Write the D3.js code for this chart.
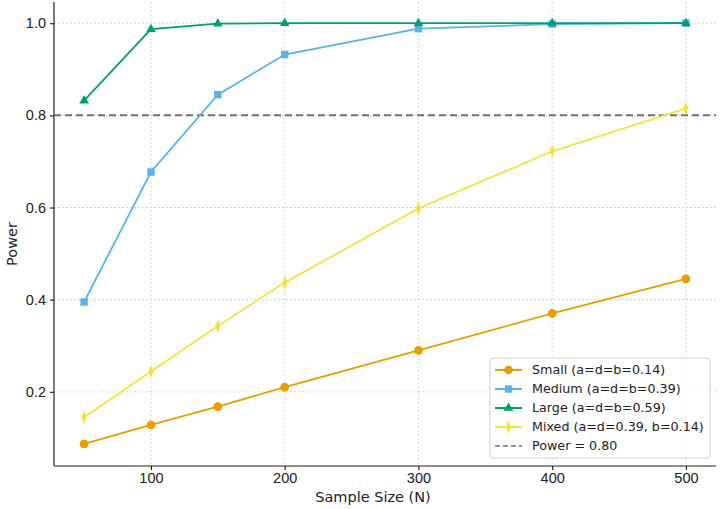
<!DOCTYPE html>
<html>
<head>
<meta charset="utf-8">
<script src="https://cdn.jsdelivr.net/npm/d3@7"></script>
<style>
  body { margin: 0; background: #fff; }
  svg { font-family: "DejaVu Sans", sans-serif; }
  .grid line { stroke: #cccccc; stroke-dasharray: 2,2; stroke-width: 0.8; }
  .axis text { font-size: 14.5px; fill: #222; }
  .axis path, .axis line { stroke: #222; stroke-width: 1.2; }
</style>
</head>
<body>
<svg id="chart"></svg>
<script>
// sample sizes and power values
const sampleSizes = [50, 100, 150, 200, 300, 400, 500];
const smallPower  = [0.087, 0.128, 0.168, 0.210, 0.290, 0.370, 0.445];
const mediumPower = [0.395, 0.677, 0.845, 0.932, 0.988, 0.998, 1.000];
const largePower  = [0.832, 0.987, 0.999, 1.000, 1.000, 1.000, 1.000];
const mixedPower  = [0.145, 0.244, 0.343, 0.437, 0.598, 0.722, 0.815];
const xTicks = [100, 200, 300, 400, 500];
const yTicks = [0.2, 0.4, 0.6, 0.8, 1.0];
const threshold = 0.80;

const seriesNames = ["Small (a=d=b=0.14)", "Medium (a=d=b=0.39)", "Large (a=d=b=0.59)", "Mixed (a=d=0.39, b=0.14)"];
const seriesColors = ["#E69F00", "#56B4E9", "#009E73", "#F0E442"];
const seriesMarkers = ["circle", "square", "triangle", "diamond"];

const config = {
    containerWidth: 720,
    containerHeight: 509,
    margin: { top: 2, right: 4, bottom: 43, left: 54 }
};

const width = config.containerWidth - config.margin.left - config.margin.right;
const height = config.containerHeight - config.margin.top - config.margin.bottom;

const svg = d3.select('#chart')
    .attr('width', config.containerWidth)
    .attr('height', config.containerHeight);

const chart = svg.append('g')
    .attr('transform', `translate(${config.margin.left},${config.margin.top})`);

const xScale = d3.scaleLinear().domain([27.5, 522.5]).range([0, width]);
const yScale = d3.scaleLinear().domain([0.039, 1.046]).range([height, 0]);

// grid
chart.append('g').attr('class', 'grid')
    .selectAll('line.v').data(xTicks).join('line')
    .attr('x1', d => xScale(d)).attr('x2', d => xScale(d))
    .attr('y1', 0).attr('y2', height);
chart.append('g').attr('class', 'grid')
    .selectAll('line.h').data(yTicks).join('line')
    .attr('x1', 0).attr('x2', width)
    .attr('y1', d => yScale(d)).attr('y2', d => yScale(d));

// axes
chart.append('g')
    .attr('class', 'axis x-axis')
    .attr('transform', `translate(0,${height})`)
    .call(d3.axisBottom(xScale).tickValues(xTicks).tickSize(4).tickPadding(3).tickFormat(d3.format('d')))
    .call(g => g.select('.domain').attr('d', `M0,0H${width}`));

chart.append('g')
    .attr('class', 'axis y-axis')
    .call(d3.axisLeft(yScale).tickValues(yTicks).tickSize(4).tickPadding(4).tickFormat(d3.format('.1f')))
    .call(g => g.select('.domain').attr('d', `M0,0V${height}`));

// threshold line
chart.append('line')
    .attr('x1', 0).attr('x2', width)
    .attr('y1', yScale(threshold)).attr('y2', yScale(threshold))
    .attr('stroke', '#707070')
    .attr('stroke-width', 2)
    .attr('stroke-dasharray', '7,4');

const allSeries = [smallPower, mediumPower, largePower, mixedPower];

function markerPath(type, size) {
    const sym = {
        circle: d3.symbolCircle,
        square: d3.symbolSquare,
        triangle: d3.symbolTriangle,
        diamond: d3.symbolDiamond
    }[type];
    return d3.symbol().type(sym).size(size)();
}
const markerSizes = { circle: 60, square: 55, triangle: 40, diamond: 40 };

const line = d3.line()
    .x((d, i) => xScale(sampleSizes[i]))
    .y(d => yScale(d));

allSeries.forEach((vals, k) => {
    chart.append('path')
        .datum(vals)
        .attr('fill', 'none')
        .attr('stroke', seriesColors[k])
        .attr('stroke-width', 1.8)
        .attr('d', line);
    chart.append('g').selectAll('path')
        .data(vals).join('path')
        .attr('transform', (d, i) => `translate(${xScale(sampleSizes[i])},${yScale(d)})` +
            (seriesMarkers[k] === 'diamond' ? ' scale(0.75,1.2)' : ''))
        .attr('d', markerPath(seriesMarkers[k], markerSizes[seriesMarkers[k]]))
        .attr('fill', seriesColors[k]);
});

// axis titles
svg.append('text')
    .attr('x', config.margin.left + width / 2 - 12)
    .attr('y', 502)
    .attr('text-anchor', 'middle')
    .attr('font-size', 14.5)
    .attr('fill', '#222')
    .text('Sample Size (N)');

svg.append('text')
    .attr('transform', `translate(17,${config.margin.top + height / 2 + 10}) rotate(-90)`)
    .attr('text-anchor', 'middle')
    .attr('font-size', 14.5)
    .attr('fill', '#222')
    .text('Power');

// legend
const legend = svg.append('g').attr('transform', 'translate(490,358)');
legend.append('rect')
    .attr('width', 220).attr('height', 100)
    .attr('rx', 3)
    .attr('fill', 'rgba(255,255,255,0.85)')
    .attr('stroke', '#d0d0d0');

const legendItems = seriesNames.map((n, k) => ({ name: n, color: seriesColors[k], marker: seriesMarkers[k] }));
legendItems.push({ name: 'Power = 0.80', color: '#707070', marker: null });

legendItems.forEach((it, k) => {
    const gy = 12 + k * 19;
    const g = legend.append('g').attr('transform', `translate(0,${gy})`);
    g.append('line')
        .attr('x1', 5).attr('x2', 32)
        .attr('stroke', it.color)
        .attr('stroke-width', it.marker ? 2 : 1.5)
        .attr('stroke-dasharray', it.marker ? null : '5,3');
    if (it.marker) {
        g.append('path')
            .attr('transform', `translate(18.5,0)` + (it.marker === 'diamond' ? ' scale(0.75,1.2)' : ''))
            .attr('d', markerPath(it.marker, markerSizes[it.marker]))
            .attr('fill', it.color);
    }
    g.append('text')
        .attr('x', 42)
        .attr('dy', '0.35em')
        .attr('font-size', 12.7)
        .attr('fill', '#222')
        .text(it.name);
});
</script>
</body>
</html>
